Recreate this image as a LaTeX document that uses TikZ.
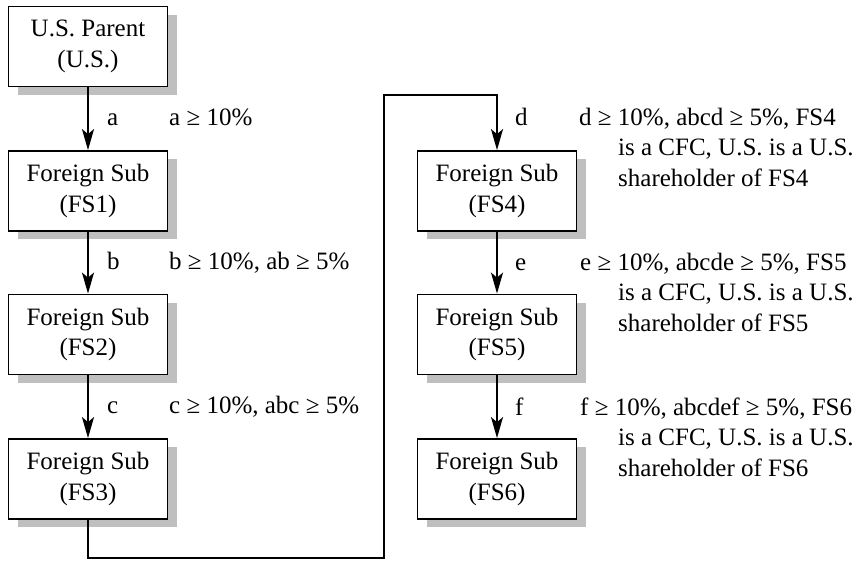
\documentclass[tikz,border=0pt]{standalone}
\usepackage{fontspec}
\setmainfont{Liberation Serif}
\usetikzlibrary{arrows.meta,shadows}
\tikzset{
  entity/.style={draw, line width=1.8pt, fill=white, minimum width=159pt,
    minimum height=80pt, inner sep=0pt, align=center,
    drop shadow={shadow xshift=9pt, shadow yshift=-8pt, fill=black!25, opacity=1}},
  link/.style={line width=1.8pt, -{Stealth[length=21pt,width=12pt,inset=5pt]}},
  wire/.style={line width=1.8pt},
  tag/.style={anchor=base west, inner sep=0pt},
}
\begin{document}
\begin{tikzpicture}[x=1pt,y=-1pt,font=\fontsize{25}{30.5}\selectfont]
\useasboundingbox (0,0) rectangle (865,560);

% ownership chain, left column
\node[entity] (us)  at (88,46.5) {U.S. Parent\\(U.S.)};
\node[entity] (fs1) at (88,191)  {Foreign Sub\\(FS1)};
\node[entity] (fs2) at (88,334.5){Foreign Sub\\(FS2)};
\node[entity] (fs3) at (88,479)  {Foreign Sub\\(FS3)};

% right column
\node[entity] (fs4) at (497,191)  {Foreign Sub\\(FS4)};
\node[entity] (fs5) at (497,334.5){Foreign Sub\\(FS5)};
\node[entity] (fs6) at (497,479)  {Foreign Sub\\(FS6)};

% connectors
\draw[link] (us) -- (fs1);
\draw[link] (fs1) -- (fs2);
\draw[link] (fs2) -- (fs3);
\coordinate (low)  at (384,558);
\coordinate (high) at (384,95);
\draw[link] (fs3.south) |- (low) -- (high) -| (fs4.north);
\draw[link] (fs4) -- (fs5);
\draw[link] (fs5) -- (fs6);

% edge letters
\node[tag] (la) at (107,125) {a};
\node[tag] (lb) at (107,269) {b};
\node[tag] (lc) at (107,413) {c};
\node[tag] (ld) at (515,125) {d};
\node[tag] (le) at (515,270) {e};
\node[tag] (lf) at (515,415) {f};

% conditions
\node[tag] (ca) at (169,125) {a ≥ 10\%};
\node[tag] (cb) at (169,269) {b ≥ 10\%, ab ≥ 5\%};
\node[tag] (cc) at (169,413) {c ≥ 10\%, abc ≥ 5\%};

\node[tag] (cd1) at (579,125)   {d ≥ 10\%, abcd ≥ 5\%, FS4};
\node[tag] (cd2) at (618,155.5) {is a CFC, U.S. is a U.S.};
\node[tag] (cd3) at (618,186)   {shareholder of FS4};

\node[tag] (ce1) at (580,270)   {e ≥ 10\%, abcde ≥ 5\%, FS5};
\node[tag] (ce2) at (618,300.5) {is a CFC, U.S. is a U.S.};
\node[tag] (ce3) at (618,331)   {shareholder of FS5};

\node[tag] (cf1) at (580,415)   {f ≥ 10\%, abcdef ≥ 5\%, FS6};
\node[tag] (cf2) at (618,445.5) {is a CFC, U.S. is a U.S.};
\node[tag] (cf3) at (618,476)   {shareholder of FS6};
\end{tikzpicture}
\end{document}
